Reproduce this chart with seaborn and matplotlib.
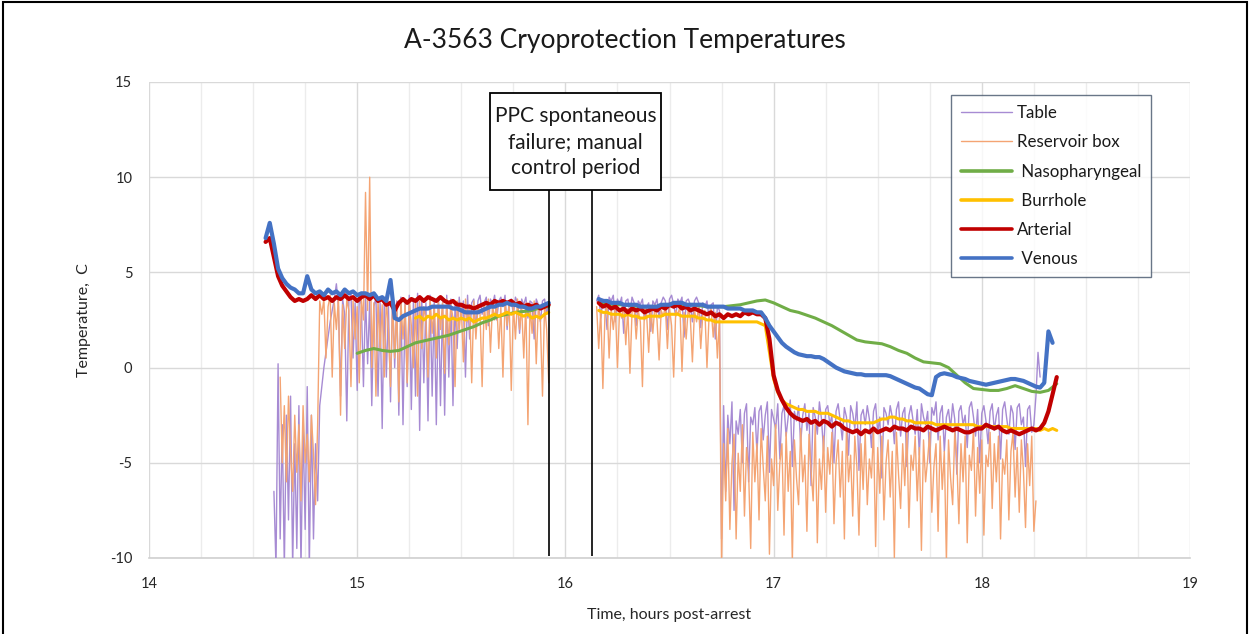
import numpy as np
import pandas as pd
import matplotlib
matplotlib.use("Agg")
import matplotlib.pyplot as plt
import seaborn as sns
from matplotlib.patches import Rectangle
from matplotlib.lines import Line2D
from matplotlib.ticker import MultipleLocator

# ---------------- data (hours post-arrest, deg C) ----------------
# each series: two recording segments (before / after manual-control gap)
TABLE_T0 = [14.60, 16.15]
TABLE_STEP = 0.01
TABLE_SEG1 = [
    -6.5, -10.5, 0.2, -9.0, -3.0, -10.5, -2.5, -8.0, -1.5, -10.5,
    -4.0, -9.5, -2.0, -10.5, -3.0, -8.5, -1.0, -10.5, -2.5, -9.0,
    -4.0, -7.0, -2.0, -1.0, 0.0, 0.8, 1.6, 2.4, 3.0, 3.6,
    4.4, 3.2, -1.5, 3.6, 2.8, -2.8, 3.5, 3.9, 0.5, 3.4,
    -1.2, 3.7, 3.3, -1.0, 3.8, 0.2, 3.5, -2.0, 3.2, 3.7,
    -1.5, 3.4, -3.2, 3.6, -0.5, 3.3, -1.8, 3.9, 0.0, 3.5,
    -2.5, 3.7, -3.0, 3.4, -1.0, 3.8, -2.2, 3.5, -1.5, 3.9,
    -3.3, 3.6, -0.8, 3.4, -2.8, 3.8, -1.5, 3.5, -3.0, 3.7,
    -2.0, 3.4, -2.5, 3.8, -0.5, 3.6, -2.0, 3.3, 1.0, 3.7,
    2.5, 3.5, -0.5, 3.8, 1.5, 3.4, 3.6, 2.0, 3.5, 3.8,
    2.8, 3.4, 3.7, 2.2, 3.6, 3.3, 3.8, 2.5, 3.5, 3.7,
    3.2, 3.8, 2.0, 3.5, 3.6, 2.8, 3.7, 3.4, 1.8, 3.6,
    3.3, 3.7, 2.6, 3.5, 3.4, 1.5, 3.6, 3.3, 2.4, 3.5,
    3.6, 2.8, 3.4,
]
TABLE_SEG2 = [
    3.5, 3.8, 2.6, 3.6, 3.4, 2.0, 3.7, 3.5, 3.8, 2.4,
    3.6, 3.3, 3.7, 1.8, 3.5, 3.6, 2.8, 3.7, 3.4, 2.2,
    3.5, 3.3, 3.6, 2.5, 3.2, 3.4, 1.9, 3.5, 3.3, 3.6,
    2.6, 3.4, 3.7, 3.5, 2.0, 3.6, 3.8, 3.3, 2.7, 3.6,
    3.4, 3.7, 1.6, 3.5, 3.6, 3.3, 2.4, 3.5, 3.7, 3.4,
    2.1, 3.4, 3.2, 3.5, 2.6, 3.3, 3.4, 1.5, 3.2, 3.0,
    -9.0, -2.0, -6.5, -2.5, -4.0, -1.8, -7.5, -2.8, -3.5, -2.2,
    -5.0, -2.4, -1.9, -6.0, -2.6, -3.0, -2.1, -4.5, -2.3, -2.0,
    -3.8, -2.5, -1.8, -5.5, -2.2, -2.7, -3.2, -1.9, -4.8, -2.4,
    -2.0, -3.6, -2.6, -1.7, -5.2, -2.3, -2.8, -2.0, -4.0, -2.5,
    -1.9, -3.3, -2.4, -6.2, -2.1, -2.6, -3.5, -1.8, -2.7, -4.4,
    -2.2, -2.0, -3.0, -2.5, -5.0, -2.3, -1.9, -2.8, -3.8, -2.1,
    -2.6, -4.6, -2.0, -2.4, -3.2, -1.8, -5.4, -2.5, -2.2, -3.0,
    -2.0, -2.7, -4.2, -2.3, -1.9, -3.4, -2.6, -5.8, -2.1, -2.4,
    -3.0, -2.0, -2.6, -4.0, -2.2, -1.8, -3.6, -2.4, -2.1, -5.2,
    -2.5, -2.0, -2.8, -3.5, -2.2, -4.6, -1.9, -2.6, -3.0, -2.3,
    -5.0, -2.1, -2.5, -1.8, -3.8, -2.4, -2.0, -4.4, -2.6, -2.2,
    -3.2, -1.9, -2.7, -5.6, -2.3, -2.0, -3.0, -2.5, -4.2, -2.1,
    -1.8, -2.6, -3.6, -2.2, -5.0, -2.4, -2.0, -2.8, -4.0, -2.3,
    -1.9, -3.3, -2.5, -2.1, -4.8, -2.2, -1.8, -2.7, -3.5, -2.0,
    -2.4, -4.3, -2.1, -1.9, -3.0, -2.6, -5.2, -2.2, -2.0, -3.4,
    -3.0, -1.5, 0.8, -0.5,
]

RES_T0 = [14.63, 16.15]
RES_STEP = 0.01
RES_SEG1 = [
    -0.5, -5.0, -2.0, -6.0, -1.5, -4.5, -6.5, -2.5, -5.5, -3.0,
    -7.0, -2.0, -5.0, -3.5, -6.0, -2.5, -4.5, -7.2, -3.0, 3.5,
    2.8, 3.6, 0.5, 3.2, 3.8, -0.5, 3.4, 2.0, 3.7, -2.5,
    3.3, 1.0, 3.6, 3.0, -1.0, 3.5, 1.5, 3.2, -0.8, 3.6,
    2.5, 9.2, 3.0, 10.0, 0.0, 3.4, -1.5, 3.5, 1.0, 3.3,
    -0.5, 3.6, 2.0, -1.0, 3.4, 0.5, 3.2, -1.8, 3.5, 1.5,
    3.3, -0.8, 3.6, 2.2, 0.0, 3.4, -1.5, 3.5, 1.0, 3.2,
    2.5, -0.5, 3.6, 1.8, 3.3, 0.5, 3.5, 2.0, 3.4, -0.3,
    3.6, 1.2, 3.3, 2.6, -1.0, 3.5, 2.0, 3.2, 0.3, 3.6,
    2.4, 3.3, -0.8, 3.5, 1.5, 3.2, 2.8, -1.0, 3.4, 2.0,
    3.6, 0.8, 3.3, 2.5, 3.5, 1.0, 3.2, -0.5, 3.5, 2.2,
    3.4, -1.2, 3.3, 1.5, 3.6, 2.0, 3.2, 0.5, 3.4, -3.0,
    3.3, 1.8, 3.5, 0.2, 3.2, 2.4, -1.5, 3.3, 2.0, -0.8,
]
RES_SEG2 = [
    3.2, 1.0, 3.0, -1.1, 2.8, 3.3, 0.5, 3.1, 2.0, 3.2,
    0.0, 3.0, 2.6, 3.3, 1.2, 3.1, -0.3, 2.9, 3.2, 1.5,
    3.0, 2.4, -1.0, 3.2, 2.8, 0.8, 3.1, 1.8, 3.3, 2.5,
    0.4, 3.0, 2.7, 3.2, 1.0, 3.1, 2.2, -0.5, 3.0, 2.8,
    3.2, -0.2, 2.9, 1.5, 3.1, 2.6, 0.3, 3.0, 2.4, 3.2,
    1.0, 2.8, 3.0, 0.0, 2.7, 3.1, 1.6, 2.9, 0.5, 2.6,
    -10.5, -4.0, -7.0, -3.2, -8.5, -5.0, -3.5, -9.0, -4.5, -6.5,
    -3.0, -7.8, -4.2, -5.5, -9.5, -3.4, -6.0, -4.0, -8.0, -3.2,
    -5.2, -7.0, -3.6, -9.8, -4.8, -6.2, -3.0, -7.5, -5.0, -4.0,
    -8.8, -3.4, -6.5, -4.4, -10.2, -3.8, -5.8, -7.2, -3.2, -6.0,
    -4.6, -8.6, -3.5, -5.4, -7.0, -3.0, -9.2, -4.8, -6.4, -3.6,
    -7.6, -4.2, -5.6, -3.4, -8.2, -5.0, -3.8, -6.8, -4.4, -9.0,
    -3.2, -6.0, -4.6, -7.8, -3.6, -5.2, -8.8, -4.0, -6.4, -3.4,
    -7.2, -4.8, -5.8, -3.2, -9.4, -4.2, -6.6, -3.6, -8.0, -5.0,
    -3.8, -6.8, -4.4, -10.0, -3.4, -5.6, -7.4, -4.0, -6.2, -3.2,
    -8.4, -4.6, -5.4, -3.6, -7.0, -4.2, -9.6, -3.8, -6.0, -4.8,
    -3.4, -7.6, -5.2, -4.0, -8.6, -3.6, -6.4, -4.4, -10.2, -3.8,
    -5.8, -7.2, -3.4, -4.8, -8.2, -4.0, -6.0, -3.6, -9.2, -4.6,
    -5.4, -3.2, -7.8, -4.2, -6.6, -3.8, -8.8, -4.6, -5.2, -3.4,
    -7.4, -4.0, -6.0, -3.6, -9.0, -4.8, -5.6, -3.8, -8.0, -4.4,
    -3.4, -6.8, -4.2, -7.6, -3.8, -5.4, -8.4, -4.0, -6.2, -3.6,
    -8.6, -7.0,
]

NASO_T0 = [15.00, 16.16]
NASO_STEP = 0.04
NASO_SEG1 = [
    0.75, 0.9, 1.0, 0.9, 0.85, 0.9, 1.1, 1.3, 1.4, 1.5,
    1.6, 1.7, 1.85, 2.0, 2.15, 2.35, 2.5, 2.7, 2.8, 2.9,
    2.95, 3.0, 3.15, 3.2,
]
NASO_SEG2 = [
    3.4, 3.35, 3.3, 3.3, 3.25, 3.2, 3.2, 3.2, 3.25, 3.3,
    3.3, 3.3, 3.25, 3.2, 3.2, 3.2, 3.25, 3.3, 3.4,
    3.5, 3.55, 3.4, 3.2, 3.0, 2.9, 2.75, 2.6, 2.4, 2.2,
    1.95, 1.7, 1.45, 1.35, 1.3, 1.25, 1.1, 0.9, 0.75, 0.5,
    0.3, 0.25, 0.2, 0.0, -0.4, -0.8, -1.1, -1.15, -1.2, -1.2,
    -1.1, -0.95, -1.1, -1.25, -1.3, -1.2, -0.85,
]

BURR_T0 = [15.28, 16.16]
BURR_STEP = 0.02
BURR_SEG1 = [
    2.6, 2.7, 2.5, 2.7, 2.6, 2.8, 2.6, 2.7, 2.5, 2.6,
    2.5, 2.6, 2.5, 2.6, 2.4, 2.5, 2.6,
    2.6, 2.7, 2.8, 2.7, 2.8, 2.9, 2.8, 2.9, 2.8, 2.7,
    2.8, 2.6, 2.7, 2.6, 2.8, 2.9,
]
BURR_SEG2 = [
    3.0, 2.9, 2.9, 2.8, 2.8, 2.8, 2.7, 2.8, 2.7, 2.7, 2.6, 2.6, 2.7,
    2.7, 2.7, 2.7, 2.8, 2.8, 2.8, 2.8, 2.7, 2.7, 2.7, 2.7, 2.6, 2.6,
    2.5, 2.5, 2.4, 2.4,
    2.4, 2.4, 2.4, 2.4, 2.4, 2.4, 2.4, 2.4, 2.4, 2.3, 2.2,
    0.8, -0.6, -1.3, -1.7, -1.9, -2.0, -2.1, -2.2, -2.2, -2.3, -2.3, -2.3,
    -2.4, -2.4, -2.4, -2.5, -2.6, -2.7, -2.8, -2.8, -2.9, -2.9,
    -2.9, -2.9, -2.9, -2.9, -2.8, -2.7, -2.7, -2.6, -2.6, -2.7,
    -2.7, -2.8, -2.8, -2.9, -2.9, -2.9, -2.9, -2.9, -3.0,
    -3.0, -3.0, -3.0, -3.0, -3.0, -3.0, -3.0, -3.0, -3.0, -3.1,
    -3.1, -3.1, -3.1, -3.1, -3.1, -3.1, -3.1, -3.2, -3.2, -3.2,
    -3.2, -3.2, -3.2, -3.2, -3.3, -3.2,
    -3.3, -3.2, -3.3,
]

ART_T0 = [14.56, 16.16]
ART_STEP = 0.02
ART_SEG1 = [
    6.6, 6.8, 5.8, 4.8, 4.3, 4.0, 3.7, 3.5, 3.6, 3.5,
    3.6, 3.8, 3.6, 3.8, 3.6, 3.7, 3.5, 3.7, 3.6, 3.8,
    3.6, 3.7, 3.5, 3.7, 3.8, 3.6, 3.8, 3.5, 3.6, 3.3,
    3.4, 3.0, 3.4, 3.6, 3.4, 3.6, 3.5, 3.7, 3.5, 3.7,
    3.6, 3.5, 3.7, 3.5, 3.4, 3.5, 3.3, 3.3, 3.2, 3.2,
    3.1, 3.2, 3.3, 3.4, 3.3, 3.5, 3.4, 3.5, 3.4, 3.5,
    3.3, 3.4, 3.2, 3.3, 3.2, 3.3, 3.1, 3.2, 3.3,
]
ART_SEG2 = [
    3.4, 3.2, 3.3, 3.1, 3.2, 3.0, 3.1, 2.9, 3.1, 3.0, 3.1, 2.9, 3.0,
    3.1, 3.0, 3.2, 3.1, 3.3, 3.2, 3.3, 3.1, 3.2, 3.0, 3.1, 3.0, 2.9,
    2.8, 2.9, 2.7, 2.8,
    2.6, 2.8, 2.7, 2.8, 2.7, 2.9, 2.8, 2.9, 2.8, 2.8, 2.6,
    1.5, -0.4, -1.2, -1.7, -2.1, -2.4, -2.6, -2.7, -2.8, -2.7, -2.9, -2.8,
    -3.0, -2.8, -2.9, -3.1, -2.9, -3.0, -3.2, -3.3, -3.4, -3.3,
    -3.5, -3.3, -3.4, -3.2, -3.4, -3.3, -3.2, -3.3, -3.1, -3.2,
    -3.2, -3.3, -3.1, -3.2, -3.2, -3.3, -3.1, -3.2, -3.3,
    -3.2, -3.1, -3.2, -3.3, -3.2, -3.3, -3.4, -3.4, -3.3, -3.2,
    -3.2, -3.0, -3.1, -3.2, -3.1, -3.3, -3.4, -3.3, -3.4, -3.5,
    -3.4, -3.3, -3.2, -3.3, -3.2, -2.9,
    -2.3, -1.4, -0.5,
]

VEN_T0 = [14.56, 16.16]
VEN_STEP = 0.02
VEN_SEG1 = [
    6.8, 7.6, 6.5, 5.2, 4.7, 4.4, 4.2, 4.1, 3.9, 3.9,
    4.8, 4.1, 3.9, 4.0, 3.8, 4.1, 3.9, 4.0, 3.8, 4.1,
    3.9, 4.0, 3.8, 3.9, 3.9, 3.8, 3.9, 3.6, 3.7, 3.5,
    4.6, 2.6, 2.5, 2.7, 2.8, 2.9, 3.0, 3.1, 3.1, 3.1,
    3.2, 3.2, 3.2, 3.2, 3.2, 3.1, 3.1, 3.0, 2.9, 2.9,
    2.9, 2.9, 3.0, 3.1, 3.2, 3.2, 3.3, 3.3, 3.4, 3.3,
    3.3, 3.2, 3.2, 3.1, 3.1, 3.2, 3.2, 3.3, 3.4,
]
VEN_SEG2 = [
    3.6, 3.5, 3.5, 3.4, 3.4, 3.4, 3.3, 3.3, 3.3, 3.3, 3.2, 3.2, 3.2,
    3.2, 3.2, 3.3, 3.3, 3.3, 3.4, 3.4, 3.4, 3.3, 3.3, 3.3, 3.3, 3.3,
    3.2, 3.2, 3.2, 3.2,
    3.2, 3.1, 3.1, 3.1, 3.1, 3.0, 3.0, 3.0, 2.9, 2.9,
    2.6, 2.2, 1.9, 1.6, 1.3, 1.1, 0.95, 0.8, 0.7, 0.65, 0.6, 0.6,
    0.55, 0.55, 0.45, 0.3, 0.15, 0.0, -0.1, -0.2, -0.25, -0.3,
    -0.35, -0.35, -0.4, -0.4, -0.4, -0.4, -0.4, -0.4, -0.45, -0.55,
    -0.65, -0.75, -0.85, -0.95, -1.05, -1.1, -1.25, -1.4, -1.45,
    -0.5, -0.35, -0.3, -0.35, -0.4, -0.5, -0.55, -0.6, -0.7, -0.75,
    -0.8, -0.85, -0.9, -0.85, -0.8, -0.75, -0.7, -0.65, -0.6, -0.6,
    -0.65, -0.7, -0.8, -0.9, -1.0, -1.05,
    -0.8, 1.9, 1.3,
]

SERIES = ["Table", "Reservoir box", "Nasopharyngeal", "Burrhole", "Arterial", "Venous"]
LEGEND_LABELS = ["Table", "Reservoir box", " Nasopharyngeal", " Burrhole", "Arterial", " Venous"]
COLORS = ["#a78bd3", "#f4a473", "#70ad47", "#ffc000", "#c00000", "#4472c4"]
WIDTHS = [1.0, 1.0, 2.2, 2.2, 3.0, 3.0]

EVENT_LINES = [15.92, 16.13]
EVENT_TEXT = "PPC spontaneous\nfailure; manual\ncontrol period"

raw = {
    "Table": (TABLE_T0, TABLE_STEP, [TABLE_SEG1, TABLE_SEG2]),
    "Reservoir box": (RES_T0, RES_STEP, [RES_SEG1, RES_SEG2]),
    "Nasopharyngeal": (NASO_T0, NASO_STEP, [NASO_SEG1, NASO_SEG2]),
    "Burrhole": (BURR_T0, BURR_STEP, [BURR_SEG1, BURR_SEG2]),
    "Arterial": (ART_T0, ART_STEP, [ART_SEG1, ART_SEG2]),
    "Venous": (VEN_T0, VEN_STEP, [VEN_SEG1, VEN_SEG2]),
}

rows = []
for name, (t0s, step, segs) in raw.items():
    for k, (t0, vals) in enumerate(zip(t0s, segs)):
        tt = t0 + step * np.arange(len(vals))
        for t, v in zip(tt, vals):
            rows.append((name, k, t, v))
df = pd.DataFrame(rows, columns=["series", "seg", "t", "v"])

# ---------------- figure ----------------
sns.set_style("white")
plt.rcParams["font.family"] = ["Lato", "DejaVu Sans"]
plt.rcParams["axes.unicode_minus"] = False

fig = plt.figure(figsize=(12.5, 6.34), dpi=100)
ax = fig.add_axes([0.1192, 0.1199, 0.8328, 0.7508])

for name, col, lw in zip(SERIES, COLORS, WIDTHS):
    sub = df[df["series"] == name]
    sns.lineplot(data=sub, x="t", y="v", units="seg", estimator=None,
                 color=col, lw=lw, ax=ax, sort=False, legend=False, zorder=3)

ax.set_xlim(14, 19)
ax.set_ylim(-10, 15)
ax.xaxis.set_major_locator(MultipleLocator(1))
ax.xaxis.set_minor_locator(MultipleLocator(0.25))
ax.yaxis.set_major_locator(MultipleLocator(5))
ax.grid(which="major", axis="both", color="#d9d9d9", lw=1.0, zorder=0)
ax.grid(which="minor", axis="x", color="#ececec", lw=1.0, zorder=0)
ax.set_axisbelow(True)
for s in ["top", "right", "left"]:
    ax.spines[s].set_visible(False)
ax.spines["bottom"].set_color("#d0d0d0")
ax.spines["bottom"].set_linewidth(1.2)
ax.tick_params(axis="both", which="both", length=0, labelsize=10.5, colors="#262626", pad=14)
ax.tick_params(axis="y", pad=12)
ax.set_xlabel("Time, hours post-arrest", fontsize=11.5, color="#262626", labelpad=12)
ax.set_ylabel("Temperature,  C", fontsize=11.5, color="#262626", labelpad=14)

# event lines and note
ax.vlines(EVENT_LINES, -9.9, 9.35, colors="black", lw=1.2, zorder=5)
ax.add_patch(Rectangle((15.64, 9.35), 0.82, 5.05, facecolor="white",
                       edgecolor="black", lw=1.3, zorder=6, clip_on=False))
ax.text(16.05, 11.85, EVENT_TEXT, ha="center", va="center", fontsize=15,
        color="#1a1a1a", linespacing=1.35, zorder=7)

# legend
handles = [Line2D([], [], color=c, lw=(1.0 if w < 2 else 2.6)) for c, w in zip(COLORS, WIDTHS)]
leg = ax.legend(handles, LEGEND_LABELS, loc="upper left", bbox_to_anchor=(0.770, 0.9727),
                frameon=True, fancybox=False, fontsize=12.2, handlelength=3.0,
                handletextpad=0.3, labelspacing=0.78, borderpad=0.6, borderaxespad=0)
leg.get_frame().set_edgecolor("#44546a")
leg.get_frame().set_linewidth(1.0)
for txt in leg.get_texts():
    txt.set_color("#1a1a1a")

fig.suptitle("A-3563 Cryoprotection Temperatures", y=0.956, fontsize=19, color="#1a1a1a")

# chart border
fig.add_artist(Rectangle((0.0025, -0.01), 0.995, 1.007, transform=fig.transFigure,
                         fill=False, edgecolor="black", lw=1.5))

fig.savefig("out.png", dpi=100)
